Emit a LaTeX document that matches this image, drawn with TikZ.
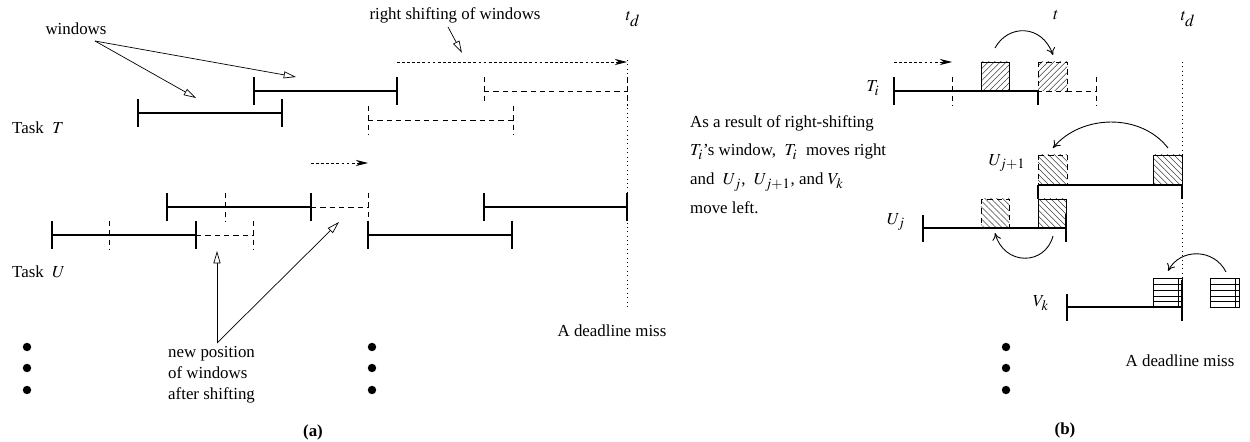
\documentclass[tikz,border=0pt]{standalone}
\usepackage{mathptmx}
\usepackage{fontspec}
\setmainfont{Liberation Serif}
\DeclareMathSizes{9.6}{9.6}{8.2}{6}
\usetikzlibrary{arrows.meta,patterns.meta}

\begin{document}
\begin{tikzpicture}[x=0.02cm,y=-0.02cm,
    font=\fontsize{9.6}{12}\selectfont,
    win/.style={line width=0.9pt},
    newwin/.style={line width=0.45pt,dash pattern=on 3pt off 2.3pt},
    shiftarrow/.style={line width=0.5pt,dash pattern=on 1.6pt off 1.3pt,-{Stealth[length=7pt,width=3.5pt]}},
    pointer/.style={line width=0.4pt,-{Triangle[open,length=7pt,width=4pt]}},
    movearrow/.style={line width=0.5pt,-{To[length=4pt,width=5pt]}},
    deadline/.style={line width=0.5pt,dotted},
    hatchne/.style={line width=0.5pt,pattern={Lines[angle=45,distance=2.4pt,line width=0.3pt]},pattern color=black!75},
    hatchnw/.style={line width=0.5pt,pattern={Lines[angle=-45,distance=2.4pt,line width=0.3pt]},pattern color=black!75}
]
\useasboundingbox (0,0) rectangle (1250,442);

% ---------------- (a) ----------------
\node (win) at (76,29) {windows};
\coordinate (winfoot) at (95,41);
\coordinate (winA) at (296,77);
\coordinate (winB) at (196,98);
\draw[pointer] (winfoot) -- (winA);
\draw[pointer] (winfoot) -- (winB);

\node (rshift) at (455,15) {right shifting of windows};
\coordinate (rsfoot) at (448,27);
\coordinate (rshead) at (462,53);
\draw[pointer] (rsfoot) -- (rshead);

\node (tdA) at (633,19) {$t_{\textstyle d}$};
\draw[deadline] (627,60) -- (627,308);
\draw[shiftarrow] (397,62) -- (627,62);

% task T
\node[anchor=west] (taskT) at (6,128) {Task\ \ $T$};
\draw[win] (138,99) -- (138,127) (138,113) -- (282,113) (282,99) -- (282,127);
\draw[win] (254,77) -- (254,105) (254,91) -- (397,91) (397,77) -- (397,105);
\draw[newwin] (484,77) -- (484,102) (484,91) -- (627,91) (627,77) -- (627,105);
\draw[newwin] (368,106) -- (368,134) (368,120) -- (513,120) (513,106) -- (513,134);

% task U
\node[anchor=west] (taskU) at (6,272) {Task\ \ $U$};
\draw[shiftarrow] (311,163) -- (368,163);
\draw[win] (167,193) -- (167,221) (167,207) -- (311,207) (311,193) -- (311,221);
\draw[newwin] (225,193) -- (225,221);
\draw[newwin] (311,207) -- (368,207) (368,193) -- (368,221);
\draw[win] (52,221) -- (52,249) (52,235) -- (196,235) (196,221) -- (196,249);
\draw[newwin] (109,221) -- (109,249);
\draw[newwin] (196,235) -- (253,235) (253,221) -- (253,249);
\draw[win] (368,221) -- (368,249) (368,235) -- (512,235) (512,221) -- (512,249);
\draw[win] (484,193) -- (484,221) (484,207) -- (627,207) (627,193) -- (627,221);

\node[align=left,anchor=north west] (newpos) at (162,340) {new position\\of windows\\after shifting};
\coordinate (npfoot) at (217,343);
\coordinate (npA) at (217,251);
\coordinate (npB) at (339,222);
\draw[pointer] (npfoot) -- (npA);
\draw[pointer] (npfoot) -- (npB);

\node (missA) at (612,331) {A deadline miss};
\node[font=\fontsize{9.6}{12}\selectfont\bfseries] (capA) at (313,432) {(a)};

\foreach \y in {347,368,390} {
    \fill (27,\y) circle (2.4pt);
    \fill (372,\y) circle (2.4pt);
    \fill (1006,\y) circle (2.4pt);
}

% ---------------- (b) ----------------
\node[align=left,anchor=north west,font=\fontsize{9.6}{16.4}\selectfont] (note) at (684,109)
    {As a result of right-shifting\\$T_i$'s window,\ \ $T_i$\ \ moves right\\and\ \ $U_j$,\ \ $U_{j+1}$, and $V_k$\\move left.};

\node (t) at (1056,15) {$t$};
\node (tdB) at (1188,19) {$t_{\textstyle d}$};
\draw[deadline] (1182,62) -- (1182,280);

% T_i
\node (Ti) at (873,88) {$T_i$};
\draw[shiftarrow] (894,62) -- (952,62);
\draw[hatchne] (981,62) rectangle (1009,91);
\draw[hatchne,newwin] (1038,62) rectangle (1067,91);
\draw[win] (894,77) -- (894,105) (894,91) -- (1038,91) (1038,91) -- (1038,105);
\draw[newwin] (952,77) -- (952,105);
\draw[newwin] (1067,91) -- (1096,91) (1096,77) -- (1096,105);
\draw[movearrow] (995,48) .. controls (1008,24) and (1042,24) .. (1053,55);

% U_{j+1}
\node (Uj1) at (1007,163) {$U_{j+1}$};
\draw[hatchnw,newwin] (1038,155) rectangle (1067,185);
\draw[hatchnw] (1153,155) rectangle (1182,185);
\draw[win] (1038,185) -- (1038,199) (1038,185) -- (1182,185) (1182,185) -- (1182,199);
\draw[movearrow] (1168,148) .. controls (1140,112) and (1080,115) .. (1053,148);

% U_j
\node (Uj) at (896,222) {$U_j$};
\draw[hatchnw,newwin] (981,199) rectangle (1009,228);
\draw[hatchnw] (1038,199) rectangle (1066,228);
\draw[win] (923,215) -- (923,242) (923,228) -- (1066,228) (1066,214) -- (1066,242);
\draw[movearrow] (1053,236) .. controls (1045,266) and (1004,266) .. (995,233);

% V_k
\node (Vk) at (1041,303) {$V_k$};
\foreach \x in {1153,1210} {
    \draw[line width=0.5pt] (\x,278) rectangle ++(29,29);
    \foreach \y in {284,290,296,301}
        \draw[line width=0.5pt] (\x,\y) -- ++(29,0);
    \draw[line width=0.4pt] (\x+25,278) -- ++(0,29);
}
\draw[win] (1067,294) -- (1067,321) (1067,307) -- (1182,307) (1182,280) -- (1182,321);
\draw[movearrow] (1226,272) .. controls (1214,248) and (1180,248) .. (1168,271);

\node (missB) at (1180,361) {A deadline miss};
\node[font=\fontsize{9.6}{12}\selectfont\bfseries] (capB) at (1065,430) {(b)};
\end{tikzpicture}
\end{document}
